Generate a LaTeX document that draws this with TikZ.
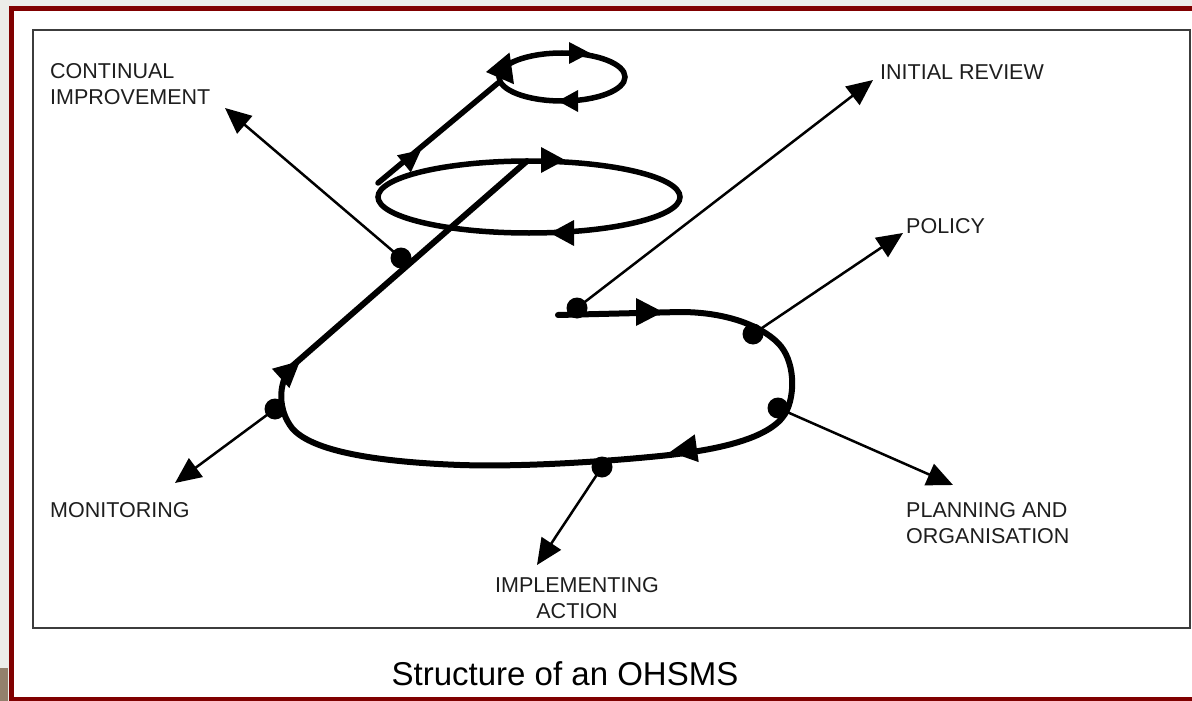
\documentclass[tikz,border=0pt]{standalone}
\usepackage{fontspec}
\setmainfont{Liberation Sans}
\usetikzlibrary{arrows.meta,calc}
\definecolor{framered}{RGB}{128,0,0}
\definecolor{outergray}{RGB}{236,236,233}
\definecolor{boxline}{RGB}{60,60,60}
\definecolor{labeltext}{RGB}{30,30,30}
\newcommand{\midtri}[4]{\fill (#1) -- ($(#1)+(#2+180:#3)+(#2+90:#4)$) -- ($(#1)+(#2+180:#3)+(#2-90:#4)$) -- cycle;}
\begin{document}
\begin{tikzpicture}[x=1pt,y=-1pt,
  thickpath/.style={line width=6pt, line join=round, line cap=round},
  loop/.style={line width=5.5pt},
  thinarrow/.style={line width=2.5pt, -{Triangle[length=26pt,width=23pt]}},
  dot/.style={circle, fill=black, inner sep=0pt, minimum size=21pt},
  lbl/.style={font=\fontsize{21.5}{26}\selectfont, text=labeltext, inner sep=0pt, align=left},
]
\useasboundingbox (0,0) rectangle (1192,701);
% page frame
\fill[outergray] (0,0) rectangle (1192,701);
\fill[white] (9,6) rectangle (1192,701);
\fill[framered] (9,6) rectangle (1192,11);
\fill[framered] (9,6) rectangle (14,701);
\fill[framered] (9,697) rectangle (1192,701);
\fill[gray!70!brown] (0,668) rectangle (8,701);
% inner box
\draw[boxline, line width=2pt] (33,30) rectangle (1190,628);

% connection points
\coordinate (start) at (558,315);
\coordinate (bigtop) at (527,161);
\coordinate (bigleft) at (378,183);
\coordinate (smallleft) at (498,83);

% main thick path
\draw[thickpath] (start) -- (680,312) .. controls (725,312) and (760,325) .. (778,343)
  .. controls (795,360) and (796,395) .. (785,414)
  .. controls (770,438) and (720,450) .. (660,456)
  .. controls (600,462) and (520,467) .. (460,465)
  .. controls (380,462) and (312,452) .. (292,428)
  .. controls (278,410) and (278,385) .. (290,368) -- (bigtop);
% loops
\draw[loop] (529,197) ellipse [x radius=151, y radius=36];
\draw[loop] (562,77) ellipse [x radius=63, y radius=24];
\draw[loop, line cap=round] (bigleft) -- (smallleft);

% arrowheads on the loops
\midtri{663,312}{0}{27}{14}
\midtri{670,452}{172}{27}{14}
\midtri{300,361}{-42}{26}{13}
\midtri{565,160}{0}{24}{13}
\midtri{550,233}{180}{24}{13}
\midtri{421,150}{-39}{22}{11}
\midtri{590,53}{0}{21}{11}
\midtri{558,101}{180}{20}{11}
\midtri{486,72}{172}{26}{16}

% dots
\node[dot] (ir) at (577,308) {};
\node[dot] (pol) at (753,334) {};
\node[dot] (plan) at (778,408) {};
\node[dot] (impl) at (602,467) {};
\node[dot] (mon) at (275,409) {};
\node[dot] (ci) at (401,258) {};

% arrow ends
\coordinate (irT) at (873,80);
\coordinate (polT) at (903,233);
\coordinate (planT) at (953,485);
\coordinate (implT) at (537,565);
\coordinate (monT) at (175,483);
\coordinate (ciT) at (225,108);

\draw[thinarrow] (ir.center) -- (irT);
\draw[thinarrow] (pol.center) -- (polT);
\draw[thinarrow] (plan.center) -- (planT);
\draw[thinarrow] (impl.center) -- (implT);
\draw[thinarrow] (mon.center) -- (monT);
\draw[thinarrow] (ci.center) -- (ciT);

% labels (base anchor = baseline of the last line)
\node[lbl, anchor=base west] (ciL) at (50,105) {CONTINUAL\\IMPROVEMENT};
\node[lbl, anchor=base west] (irL) at (880,80) {INITIAL REVIEW};
\node[lbl, anchor=base west] (polL) at (906,233) {POLICY};
\node[lbl, anchor=base west] (monL) at (50,517) {MONITORING};
\node[lbl, anchor=base west] (planL) at (906,543) {PLANNING AND\\ORGANISATION};
\node[lbl, anchor=base, align=center] (implL) at (577,618) {IMPLEMENTING\\ACTION};

% caption
\node[font=\fontsize{33}{40}\selectfont, inner sep=0pt, anchor=base] (cap) at (565,685) {Structure of an OHSMS};
\end{tikzpicture}
\end{document}
